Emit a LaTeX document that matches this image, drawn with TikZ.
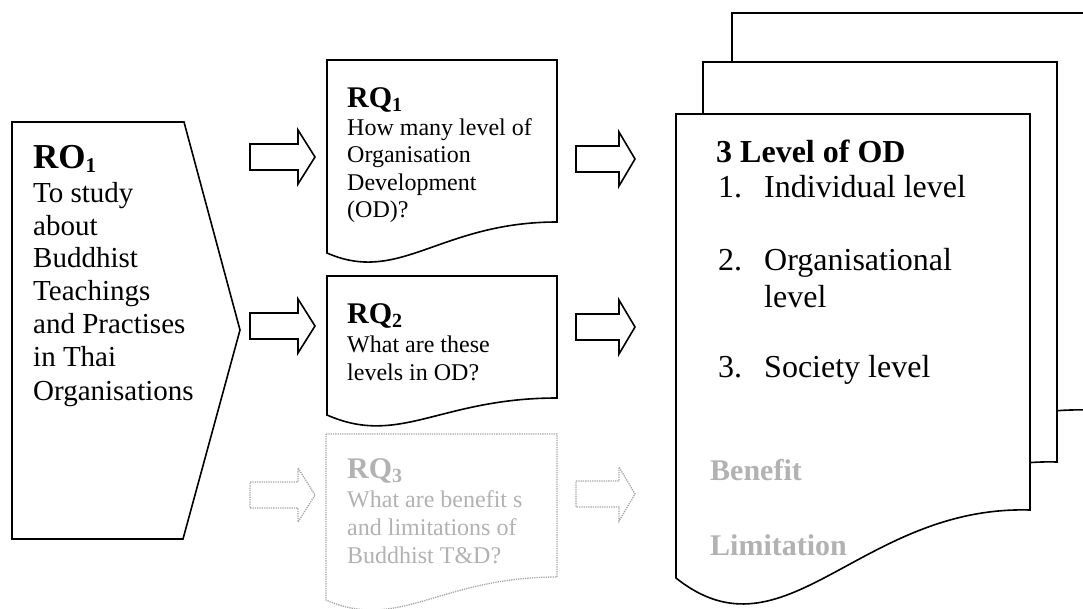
\documentclass[tikz,border=0pt]{standalone}
\usepackage{fontspec}
\setmainfont{Liberation Serif}
\newcommand\blockarrow[5]{% x0, yc, shaft length, head length, style
  \draw[#5] (#1,#2-13) -- (#1+#3,#2-13) -- (#1+#3,#2-27) -- (#1+#3+#4,#2)
    -- (#1+#3,#2+27) -- (#1+#3,#2+13) -- (#1,#2+13) -- cycle;}
\newcommand\rqdoc[6]{% L, T, R, yL, yR, style
  \draw[#6] (#1,#2) -- (#3,#2) -- (#3,#5)
    .. controls ({#1+0.491*(#3-#1)},#5) and ({#1+0.317*(#3-#1)},{#4+32}) .. (#1,#4) -- cycle;}
\newcommand\oddoc[5]{% L, T, R, yR, style
  \draw[#5] (#1,#2) -- (#3,#2) -- (#3,#4)
    .. controls ({#3-170},{#4-5}) and ({#3-245},{#4+155}) .. (#1,{#4+68}) -- cycle;}
\begin{document}
\begin{tikzpicture}[x=1pt,y=-1pt,line join=miter]
\tikzset{
  blk/.style={draw=black,line width=1.6pt,fill=white},
  gry/.style={draw=black!35,line width=1.3pt,densely dotted,fill=white},
  txt/.style={inner sep=0pt,anchor=base west,text=black},
  gtxt/.style={txt,text=black!30},
  robody/.style={txt,font=\fontsize{29}{33}\selectfont},
  rqbody/.style={txt,font=\fontsize{24}{27}\selectfont},
  grqbody/.style={gtxt,font=\fontsize{24}{27}\selectfont},
  odbody/.style={txt,font=\fontsize{32}{36}\selectfont},
  rqhead/.style={font=\fontsize{30}{34}\selectfont\bfseries},
}
\useasboundingbox (0,0) rectangle (1083,608);
\clip (0,0) rectangle (1083,608);
\fill[white] (0,0) rectangle (1083,608);

% RO1 chevron
\draw[blk] (12,122) -- (184,122) -- (240,330) -- (183,539) -- (12,539) -- cycle;
\node[txt,font=\fontsize{35}{40}\selectfont\bfseries] (ro) at (33,168)
  {RO\raisebox{-4pt}{\fontsize{21}{24}\selectfont 1}};
\foreach \t/\y [count=\i] in {To study/202,about/235,Buddhist/267,Teachings/300,
  and Practises/333,in Thai/366,Organisations/400}
  \node[robody] (ro\i) at (33,\y) {\t};

% left block arrows
\blockarrow{250}{157}{48}{17}{blk}
\blockarrow{250}{326}{48}{17}{blk}
\blockarrow{250}{495}{48}{17}{gry}

% RQ documents
\rqdoc{327}{60}{557}{253}{222}{blk}
\rqdoc{327}{276}{557}{415}{398}{blk}
\rqdoc{326}{434}{557}{600}{577}{gry}

\node[txt,rqhead] (rq1) at (347,107) {RQ\raisebox{-4pt}{\fontsize{20}{22}\selectfont 1}};
\foreach \t/\y [count=\i] in {How many level of/135,Organisation/162,Development/190,(OD)?/217}
  \node[rqbody] (rqa\i) at (347,\y) {\t};

\node[txt,rqhead] (rq2) at (347,323) {RQ\raisebox{-4pt}{\fontsize{20}{22}\selectfont 2}};
\foreach \t/\y [count=\i] in {What are these/352,levels in OD?/380}
  \node[rqbody] (rqb\i) at (347,\y) {\t};

\node[gtxt,rqhead] (rq3) at (347,478) {RQ\raisebox{-4pt}{\fontsize{20}{22}\selectfont 3}};
\foreach \t/\y [count=\i] in {What are benefit s/507,and limitations of/535,Buddhist T\&D?/563}
  \node[grqbody] (rqc\i) at (347,\y) {\t};

% right block arrows
\blockarrow{576}{159}{43}{16}{blk}
\blockarrow{576}{327}{43}{16}{blk}
\blockarrow{576}{494}{43}{16}{gry}

% stacked OD documents
\oddoc{732}{13}{1086}{410}{blk}
\oddoc{703}{62}{1057}{462}{blk}
\oddoc{676}{114}{1030}{510}{blk}

\node[txt,font=\fontsize{32}{36}\selectfont\bfseries] (odh) at (716,162) {3 Level of OD};
\node[odbody] (n1) at (718,197) {1.};
\node[odbody] (i1) at (764,197) {Individual level};
\node[odbody] (n2) at (718,270) {2.};
\node[odbody] (i2) at (764,270) {Organisational};
\node[odbody] (i2b) at (764,307) {level};
\node[odbody] (n3) at (718,377) {3.};
\node[odbody] (i3) at (764,377) {Society level};
\node[gtxt,font=\fontsize{30}{34}\selectfont\bfseries] (ben) at (710,480) {Benefit};
\node[gtxt,font=\fontsize{30}{34}\selectfont\bfseries] (lim) at (710,555) {Limitation};
\end{tikzpicture}
\end{document}
